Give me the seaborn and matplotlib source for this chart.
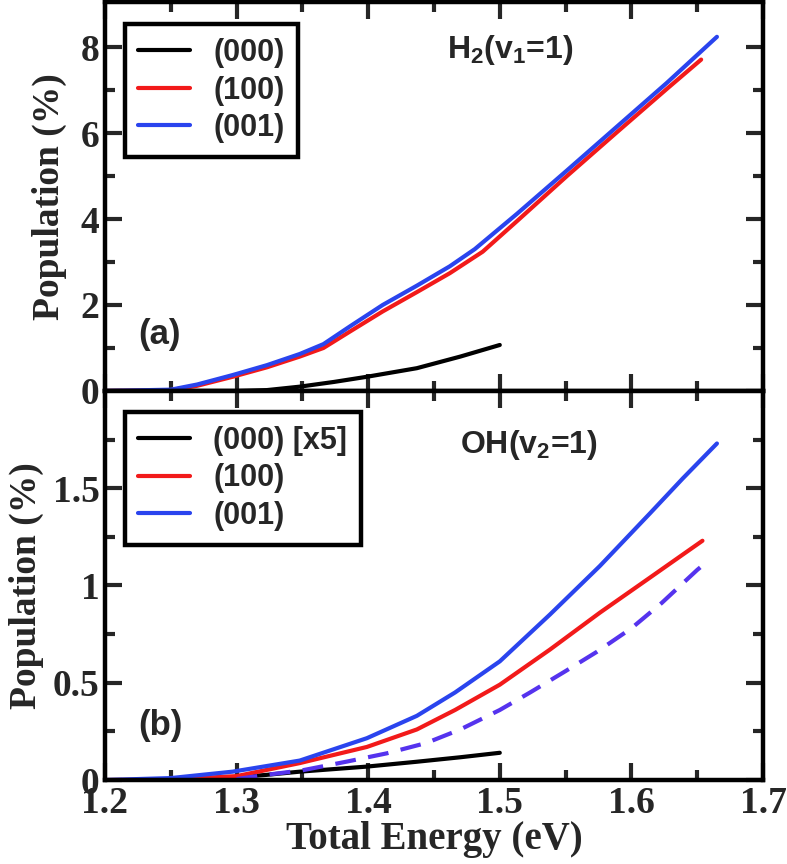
import numpy as np
import pandas as pd
import matplotlib
matplotlib.use('Agg')
import matplotlib.pyplot as plt
from matplotlib.ticker import MultipleLocator, FixedLocator, FuncFormatter
import seaborn as sns


# ==========================
# DADOS
# ==========================

# painel (a): H2(v1=1)
e_a_000 = [1.20, 1.30, 1.323, 1.348, 1.374, 1.399, 1.437, 1.470, 1.50]
p_a_000 = [0.0, 0.0, 0.02, 0.10, 0.21, 0.33, 0.53, 0.80, 1.07]

e_a_100 = [1.20, 1.25, 1.27, 1.297, 1.323, 1.348, 1.366, 1.386, 1.411, 1.437,
           1.462, 1.487, 1.513, 1.551, 1.589, 1.627, 1.653]
p_a_100 = [0.0, 0.02, 0.12, 0.33, 0.55, 0.80, 1.00, 1.38, 1.85, 2.30,
           2.74, 3.24, 3.95, 5.00, 6.02, 7.03, 7.71]

e_a_001 = [1.20, 1.25, 1.27, 1.297, 1.323, 1.348, 1.366, 1.386, 1.411, 1.437,
           1.462, 1.481, 1.513, 1.551, 1.589, 1.627, 1.665]
p_a_001 = [0.0, 0.03, 0.15, 0.37, 0.60, 0.86, 1.09, 1.50, 2.00, 2.45,
           2.90, 3.30, 4.12, 5.13, 6.15, 7.17, 8.24]

# painel (b): OH(v2=1)
e_b_000 = [1.25, 1.30, 1.322, 1.348, 1.399, 1.437, 1.470, 1.50]
p_b_000 = [0.0, 0.015, 0.026, 0.043, 0.069, 0.094, 0.117, 0.14]

e_b_100 = [1.20, 1.25, 1.30, 1.348, 1.399, 1.437, 1.466, 1.50, 1.538, 1.576,
           1.614, 1.654]
p_b_100 = [0.0, 0.003, 0.02, 0.087, 0.17, 0.26, 0.36, 0.49, 0.67, 0.86,
           1.04, 1.23]

e_b_001 = [1.20, 1.25, 1.297, 1.348, 1.399, 1.437, 1.466, 1.50, 1.538, 1.576,
           1.614, 1.639, 1.665]
p_b_001 = [0.0, 0.01, 0.043, 0.10, 0.215, 0.33, 0.45, 0.61, 0.85, 1.10,
           1.37, 1.55, 1.73]

e_b_dash = [1.30, 1.322, 1.35, 1.384, 1.414, 1.444, 1.470, 1.50, 1.523, 1.550,
            1.574, 1.600, 1.623, 1.650, 1.658]
p_b_dash = [0.005, 0.026, 0.05, 0.095, 0.137, 0.19, 0.26, 0.36, 0.45, 0.56,
            0.66, 0.78, 0.91, 1.08, 1.125]

labels_a = ['(000)', '(100)', '(001)']
labels_b = ['(000) [x5]', '(100)', '(001)']


# ==========================
# CONFIGURAÇÕES
# ==========================

sns.set_theme(style='ticks')
plt.rcParams['font.family'] = ['Liberation Serif', 'DejaVu Serif']
plt.rcParams['font.weight'] = 'bold'
plt.rcParams['axes.labelweight'] = 'bold'
plt.rcParams['mathtext.fontset'] = 'custom'
plt.rcParams['mathtext.rm'] = 'Liberation Sans:bold'
plt.rcParams['mathtext.it'] = 'Liberation Sans:bold'
plt.rcParams['mathtext.bf'] = 'Liberation Sans:bold'

PRETO = '#000000'
VERMELHO = '#f21a1a'
AZUL = '#2a44ee'
ROXO = '#5533ee'
LW = 3.0
SANS = 'Liberation Sans'

fig = plt.figure(figsize=(7.87, 8.64), dpi=100)
ax1 = fig.add_axes([0.1334, 0.5475, 0.8361, 0.4502])
ax2 = fig.add_axes([0.1334, 0.0972, 0.8361, 0.4503])


def desenha(ax, x, y, cor, label=None, dashed=False):
    sns.lineplot(x=x, y=y, ax=ax, color=cor, linewidth=LW, label=label,
                 estimator=None, sort=False)
    linha = ax.lines[-1]
    linha.set_solid_joinstyle('round')
    if dashed:
        linha.set_dashes((5, 3))


# ==========================
# PAINEL (a)
# ==========================

desenha(ax1, e_a_000, p_a_000, PRETO, labels_a[0])
desenha(ax1, e_a_100, p_a_100, VERMELHO, labels_a[1])
desenha(ax1, e_a_001, p_a_001, AZUL, labels_a[2])

ax1.set_xlim(1.2, 1.7)
ax1.set_ylim(0, 9.05)
ax1.yaxis.set_major_locator(FixedLocator([0, 2, 4, 6, 8]))
ax1.yaxis.set_minor_locator(FixedLocator([1, 3, 5, 7]))
ax1.tick_params(labelbottom=False)
ax1.set_ylabel('Population (%)', fontsize=27, labelpad=10)
ax1.set_xlabel('')

ax1.text(0.52, 0.877, r'H$_2$(v$_1$=1)', transform=ax1.transAxes,
         fontsize=23, fontweight='bold', family=SANS,
         ha='left', va='center')
ax1.text(0.05, 0.144, '(a)', transform=ax1.transAxes,
         fontsize=25, fontweight='bold', family=SANS,
         ha='left', va='center')

# ==========================
# PAINEL (b)
# ==========================

desenha(ax2, e_b_000, p_b_000, PRETO, labels_b[0])
desenha(ax2, e_b_100, p_b_100, VERMELHO, labels_b[1])
desenha(ax2, e_b_001, p_b_001, AZUL, labels_b[2])
desenha(ax2, e_b_dash, p_b_dash, ROXO, None, dashed=True)

ax2.set_xlim(1.2, 1.7)
ax2.set_ylim(0, 2.0)
ax2.yaxis.set_major_locator(FixedLocator([0, 0.5, 1.0, 1.5]))
ax2.yaxis.set_minor_locator(FixedLocator([0.25, 0.75, 1.25, 1.75]))
ax2.yaxis.set_major_formatter(FuncFormatter(lambda v, p: f'{v:g}'))
ax2.set_ylabel('Population (%)', fontsize=27, labelpad=6)
ax2.set_xlabel('Total Energy (eV)', fontsize=28, labelpad=0)

ax2.text(0.54, 0.861, r'OH(v$_2$=1)', transform=ax2.transAxes,
         fontsize=23, fontweight='bold', family=SANS,
         ha='left', va='center')
ax2.text(0.05, 0.14, '(b)', transform=ax2.transAxes,
         fontsize=25, fontweight='bold', family=SANS,
         ha='left', va='center')


# ==========================
# EIXOS E LEGENDAS
# ==========================

for ax, topo in ((ax1, 0.943), (ax2, 0.946)):
    ax.xaxis.set_major_locator(MultipleLocator(0.1))
    ax.xaxis.set_minor_locator(MultipleLocator(0.05))
    ax.tick_params(which='both', direction='in', top=True, right=True,
                   width=3, labelsize=27, pad=4)
    ax.tick_params(which='major', length=12)
    ax.tick_params(which='minor', length=7)
    for s in ax.spines.values():
        s.set_linewidth(3.2)
        s.set_color('black')
    for lbl in ax.get_xticklabels() + ax.get_yticklabels():
        lbl.set_fontweight('bold')

    leg = ax.legend(loc='upper left', bbox_to_anchor=(0.03, topo),
                    borderaxespad=0, fancybox=False, framealpha=1,
                    edgecolor='black', handlelength=1.7,
                    handletextpad=0.75, labelspacing=0.25,
                    borderpad=0.45,
                    prop={'family': SANS, 'weight': 'bold', 'size': 22})
    leg.get_frame().set_linewidth(3.2)
    for h in leg.get_lines():
        h.set_linewidth(3.0)

plt.savefig('out.png', dpi=100)
plt.close()
